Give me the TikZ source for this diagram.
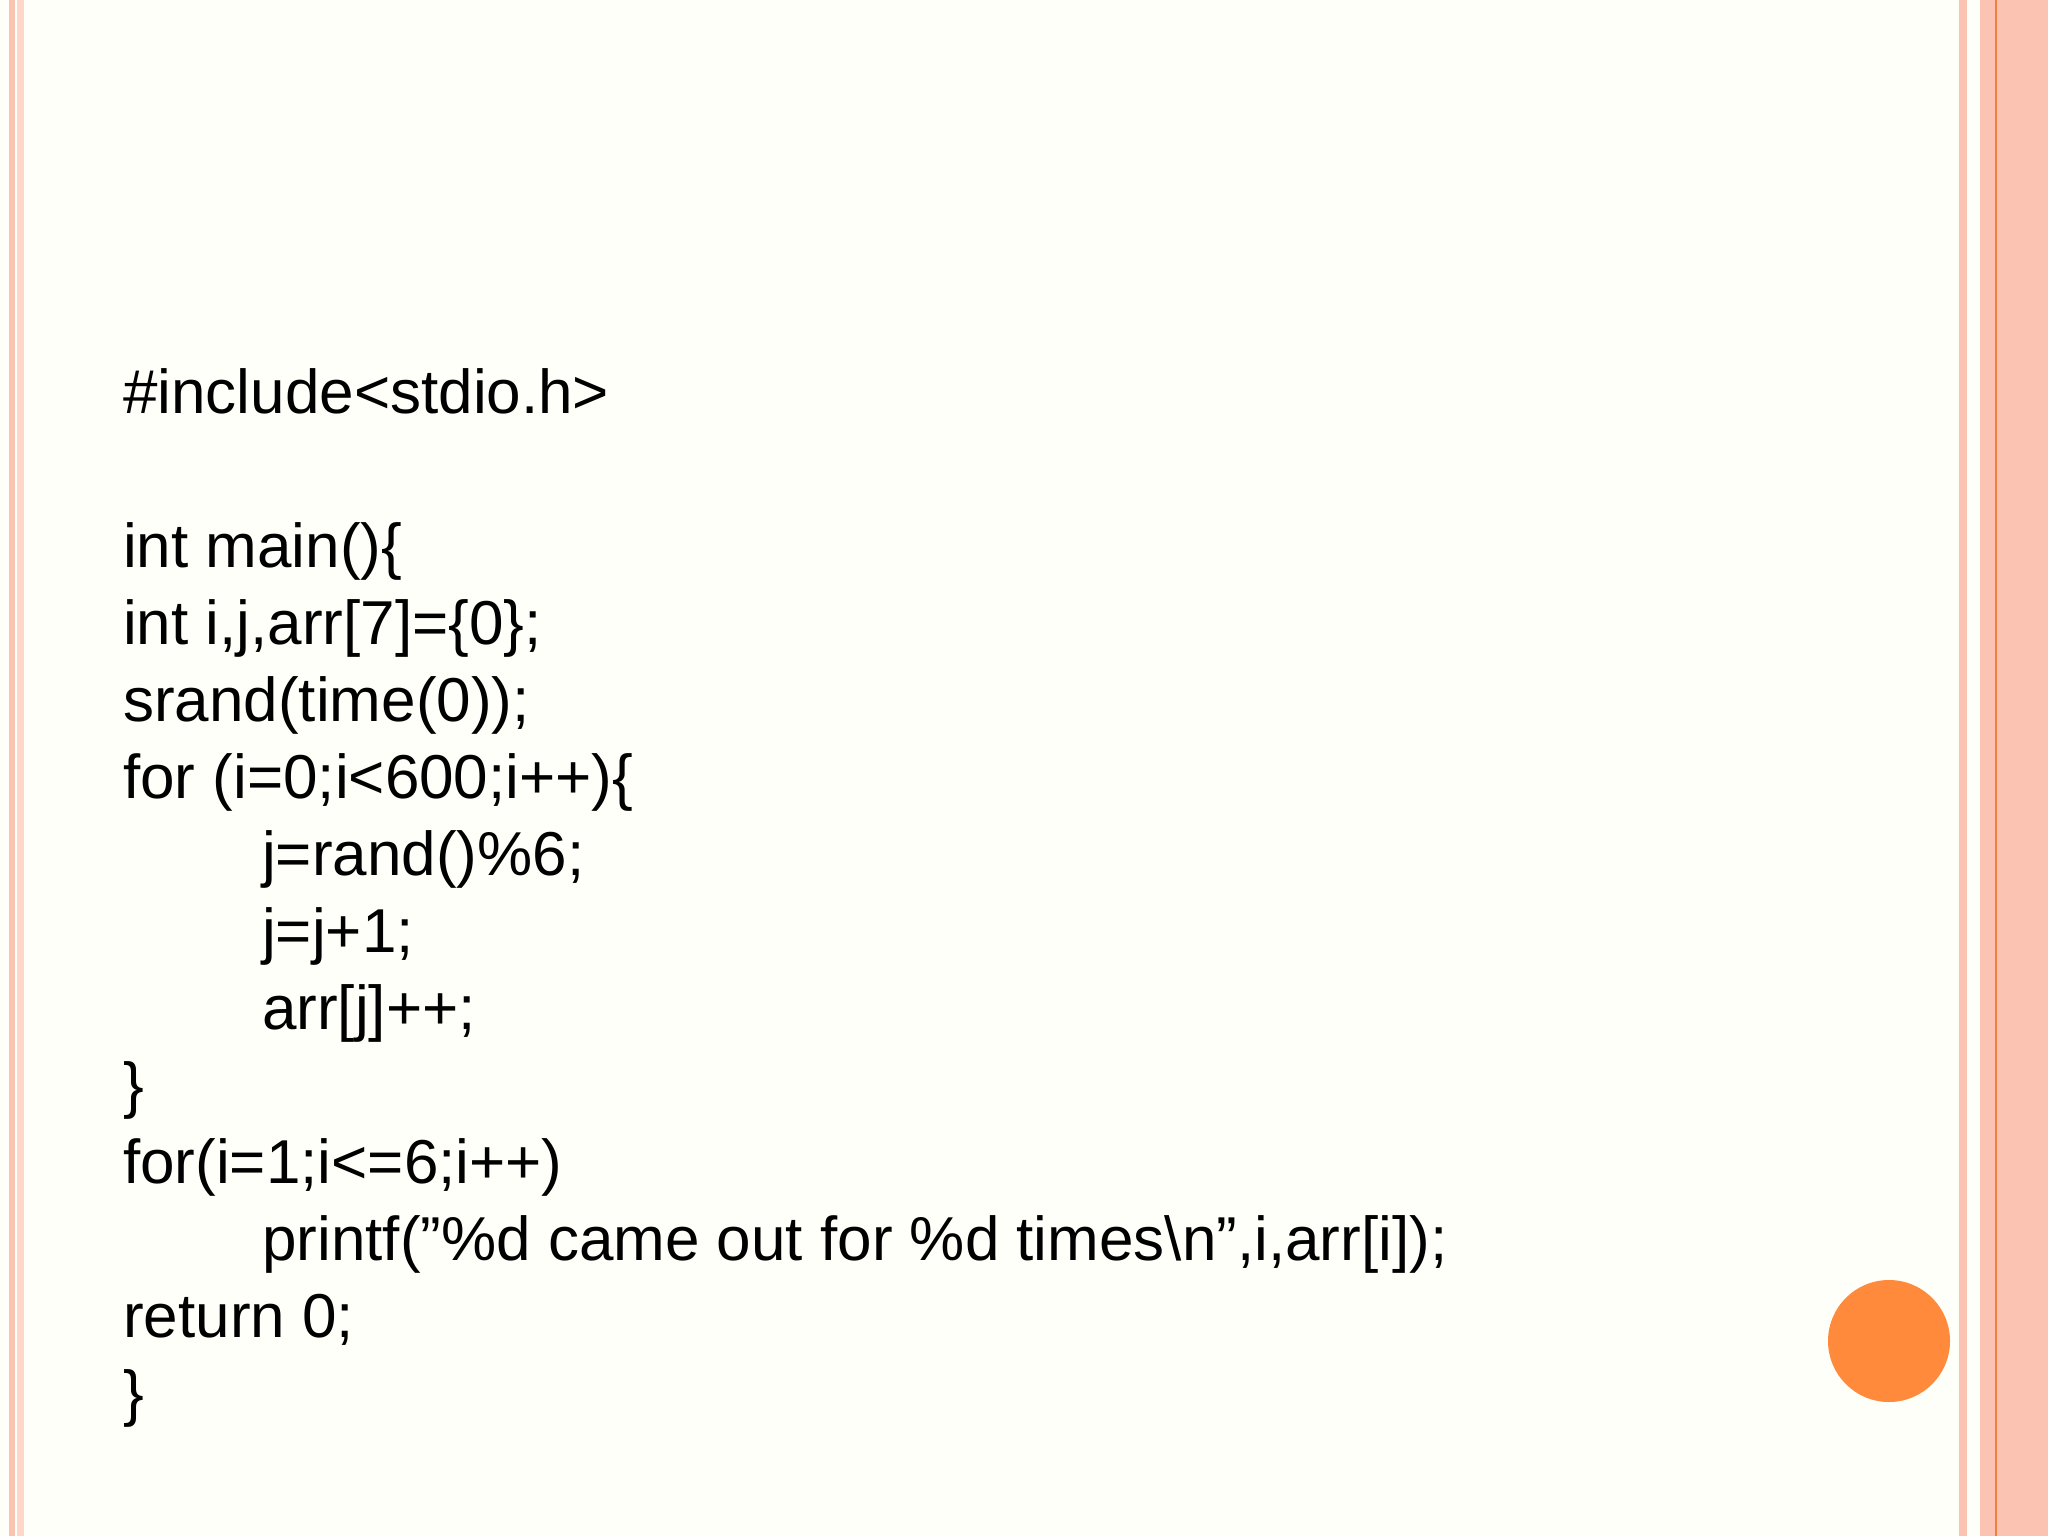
\documentclass[tikz,border=0pt]{standalone}
\usepackage{fontspec}
\setmainfont{Liberation Sans}
\definecolor{pinkA}{HTML}{FBC4B2}
\definecolor{pinkB}{HTML}{FDD8CB}
\definecolor{orng}{HTML}{FF8A3C}
\definecolor{lineO}{HTML}{F08040}
\begin{document}
\begin{tikzpicture}[x=1pt,y=-1pt,
  code/.style={anchor=base west,inner sep=0pt,font=\fontsize{62}{74}\selectfont}]
\useasboundingbox (0,0) rectangle (2048,1536);
\fill[white!98!yellow] (0,0) rectangle (2048,1536);
% left stripes
\fill[pinkA] (9,0) rectangle (15,1536);
\fill[pinkB] (17,0) rectangle (24,1536);
% right stripes
\fill[pinkA] (1959,0) rectangle (1967,1536);
\fill[pinkA] (1980,0) rectangle (2048,1536);
\draw[lineO,line width=1.2pt] (1996,0) -- (1996,1536);
\fill[orng] (1889,1341) circle (61);
\def\L{123}\def\I{262}
\node[code] (l0) at (\L,413) {\#include<stdio.h>};
\node[code] (l2) at (\L,567) {int main()\{};
\node[code] (l3) at (\L,644) {int i,j,arr[7]=\{0\};};
\node[code] (l4) at (\L,721) {srand(time(0));};
\node[code] (l5) at (\L,798) {for (i=0;i<600;i++)\{};
\node[code] (l6) at (\I,875) {j=rand()\%6;};
\node[code] (l7) at (\I,952) {j=j+1;};
\node[code] (l8) at (\I,1029) {arr[j]++;};
\node[code] (l9) at (\L,1106) {\}};
\node[code] (l10) at (\L,1183) {for(i=1;i<=6;i++)};
\node[code] (l11) at (\I,1260) {printf("\%d came out for \%d times\string\n",i,arr[i]);};
\node[code] (l12) at (\L,1337) {return 0;};
\node[code] (l13) at (\L,1414) {\}};
\end{tikzpicture}
\end{document}
